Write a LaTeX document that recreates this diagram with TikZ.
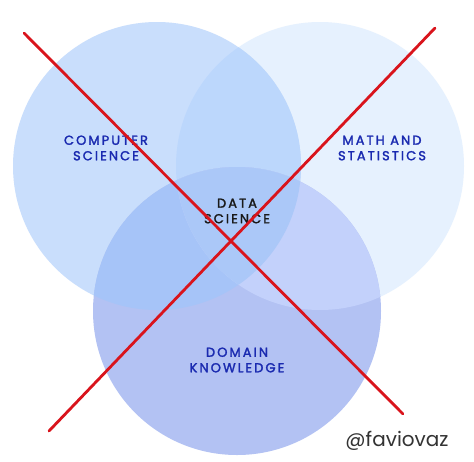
\documentclass[tikz,border=0pt]{standalone}
\usepackage{fontspec}
\setmainfont{Poppins}
\newfontfamily\lblfont[LetterSpace=16, FakeBold=2]{Poppins}
\definecolor{cL}{HTML}{C9DEFC}
\definecolor{cR}{HTML}{E6F1FE}
\definecolor{cB}{HTML}{B3C2F3}
\definecolor{cLR}{HTML}{BCD7FC}
\definecolor{cLB}{HTML}{A6C4F8}
\definecolor{cRB}{HTML}{C3D1FB}
\definecolor{cC}{HTML}{ABC8F8}
\definecolor{lblblue}{HTML}{1A2AB0}
\definecolor{xred}{HTML}{D9141C}
\tikzset{
  lbl/.style={font=\lblfont\fontsize{13}{15.5}\selectfont, text=lblblue, align=center, inner sep=0pt},
  crossline/.style={draw=xred, line width=2.8pt, line cap=round}
}
\begin{document}
\begin{tikzpicture}[x=1pt,y=-1pt]
\useasboundingbox (0,0) rectangle (474,461);
\fill[white] (0,0) rectangle (474,461);
\def\rr{144}
\coordinate (cl) at (157,166);
\coordinate (cr) at (320,166);
\coordinate (cb) at (237,311);
\fill[cR] (cr) circle (\rr);
\fill[cL] (cl) circle (\rr);
\begin{scope}
  \clip (cl) circle (\rr);
  \fill[cLR] (cr) circle (\rr);
\end{scope}
\fill[cB] (cb) circle (\rr);
\begin{scope}
  \clip (cb) circle (\rr);
  \fill[cLB] (cl) circle (\rr);
  \fill[cRB] (cr) circle (\rr);
  \clip (cl) circle (\rr);
  \fill[cC] (cr) circle (\rr);
\end{scope}
\node[lbl] (cs) at (106,148) {COMPUTER\\SCIENCE};
\node[lbl] (ms) at (382,148) {MATH AND\\STATISTICS};
\node[lbl, text=black!90] (ds) at (237,211) {DATA\\SCIENCE};
\node[lbl] (dk) at (237,360) {DOMAIN\\KNOWLEDGE};
\node[font=\fontsize{20}{23}\selectfont, text=black!80, inner sep=0pt] (fv) at (397,441) {@faviovaz};
\coordinate (a1) at (24,33);
\coordinate (a2) at (403,414);
\coordinate (b1) at (435,28);
\coordinate (b2) at (49,431);
\draw[crossline] (a1) -- (a2);
\draw[crossline] (b1) -- (b2);
\end{tikzpicture}
\end{document}
